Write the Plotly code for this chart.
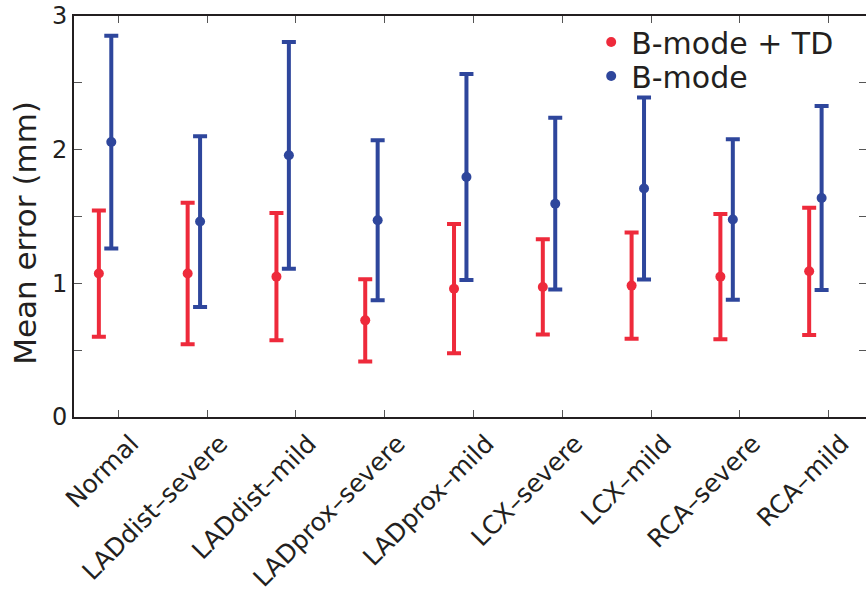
import plotly.graph_objects as go

categories = ["Normal", "LADdist\u2013severe", "LADdist\u2013mild", "LADprox\u2013severe",
              "LADprox\u2013mild", "LCX\u2013severe", "LCX\u2013mild", "RCA\u2013severe", "RCA\u2013mild"]
td_mean = [1.073, 1.073, 1.050, 0.723, 0.960, 0.973, 0.983, 1.050, 1.090]
td_sd = [0.472, 0.529, 0.476, 0.308, 0.483, 0.356, 0.397, 0.469, 0.476]
b_mean = [2.057, 1.462, 1.958, 1.472, 1.796, 1.596, 1.709, 1.477, 1.638]
b_sd = [0.796, 0.639, 0.848, 0.598, 0.771, 0.642, 0.681, 0.600, 0.688]
y_ticks = [0, 0.5, 1, 1.5, 2, 2.5, 3]
y_ticktext = ["0", "", "1", "", "2", "", "3"]

RED = "#EE2A3B"
BLUE = "#2E469C"
INK = "#231F20"
FONT = "DejaVu Sans"

pos = list(range(1, len(categories) + 1))
x_td = [p - 0.22 for p in pos]
x_b = [p - 0.08 for p in pos]

fig = go.Figure()
fig.add_trace(go.Scatter(
    x=x_td, y=td_mean, mode="markers", name="B-mode + TD", legend="legend",
    marker=dict(color=RED, size=10),
    error_y=dict(type="data", array=td_sd, visible=True, color=RED, thickness=4, width=7),
))
fig.add_trace(go.Scatter(
    x=x_b, y=b_mean, mode="markers", name="B-mode", legend="legend2",
    marker=dict(color=BLUE, size=10),
    error_y=dict(type="data", array=b_sd, visible=True, color=BLUE, thickness=4, width=7),
))
# invisible trace to activate right-hand tick axis
fig.add_trace(go.Scatter(x=[None], y=[None], yaxis="y2", showlegend=False, hoverinfo="skip"))

legend_common = dict(xanchor="left", yanchor="top", bgcolor="rgba(0,0,0,0)",
                     font=dict(family=FONT, size=30, color=INK))

fig.update_layout(
    width=866, height=597,
    margin=dict(l=74, r=0, t=16, b=180),
    paper_bgcolor="white", plot_bgcolor="white",
    font=dict(family=FONT, color=INK, size=24),
    showlegend=True,
    legend=dict(x=0.653, y=1.0, **legend_common),
    legend2=dict(x=0.653, y=0.915, **legend_common),
    xaxis=dict(range=[0.5, 9.42], tickvals=pos, ticktext=categories, tickangle=-45,
               automargin=False,
               showgrid=False, zeroline=False, showline=True, linecolor=INK, linewidth=2,
               mirror="ticks", ticks="inside", ticklen=7, tickcolor="#555555", tickwidth=1,
               ticklabelstandoff=0, ticklabelshift=13,
               tickfont=dict(family=FONT, size=25, color=INK)),
    yaxis=dict(range=[0, 3], tickvals=y_ticks, ticktext=y_ticktext, automargin=False,
               showgrid=False, zeroline=False, showline=True, linecolor=INK, linewidth=2,
               ticks="inside", ticklen=8, tickcolor="#555555", tickwidth=1,
               tickfont=dict(family=FONT, size=24, color=INK)),
    yaxis2=dict(range=[0, 3], tickvals=y_ticks, showticklabels=False, overlaying="y",
                side="right", showgrid=False, zeroline=False, showline=False, automargin=False,
                ticks="inside", ticklen=7, tickcolor="#555555", tickwidth=1),
    annotations=[dict(text="Mean error (mm)", textangle=-90, xref="paper", yref="paper",
                      x=-0.062, y=0.459, xanchor="center", yanchor="middle", showarrow=False,
                      font=dict(family=FONT, size=31, color=INK))],
)

fig.write_html("out.html")
